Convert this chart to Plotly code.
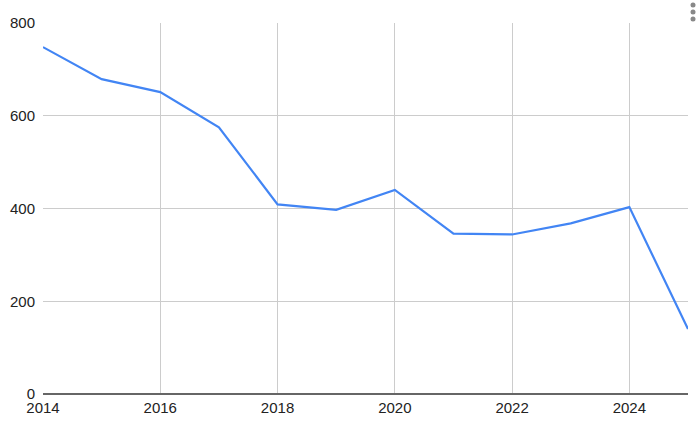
import plotly.graph_objects as go

years = [2014, 2015, 2016, 2017, 2018, 2019, 2020, 2021, 2022, 2023, 2024, 2025]
values = [748, 679, 651, 575, 409, 397, 440, 346, 344, 368, 403, 140]
x_ticks = [2014, 2016, 2018, 2020, 2022, 2024]
y_ticks = [0, 200, 400, 600, 800]

fig = go.Figure()
fig.add_trace(go.Scatter(
    x=years, y=values, mode="lines",
    line=dict(color="#4285F4", width=2.2),
    hoverinfo="x+y",
))

font = dict(family="Liberation Sans, Arial, sans-serif", size=15, color="#222222")

W, H = 700, 430
L, R, T, B = 43, 12, 23, 36
pw, ph = W - L - R, H - T - B

fig.update_layout(
    width=W, height=H,
    margin=dict(l=L, r=R, t=T, b=B, autoexpand=False),
    paper_bgcolor="white", plot_bgcolor="white",
    showlegend=False,
    font=font,
    xaxis=dict(
        range=[2014, 2025], tickvals=x_ticks, ticktext=[str(v) for v in x_ticks],
        showgrid=True, gridcolor="#cccccc", gridwidth=1,
        zeroline=False, showline=False, ticks="", ticklabelstandoff=3,
        fixedrange=True, automargin=False,
    ),
    yaxis=dict(
        range=[0, 800], tickvals=y_ticks, ticktext=[str(v) for v in y_ticks],
        showgrid=True, gridcolor="#cccccc", gridwidth=1,
        zeroline=True, zerolinecolor="#666666", zerolinewidth=2,
        showline=False, ticks="", ticklabelstandoff=7,
        fixedrange=True, automargin=False,
    ),
)

# menu dots (top-right), positions in page pixels
for cy in [5, 12, 19]:
    xp = (693 - L) / pw
    yp = 1 + (T - cy) / ph
    fig.add_shape(type="circle", xref="paper", yref="paper",
                  x0=xp - 2.5 / pw, x1=xp + 2.5 / pw,
                  y0=yp - 2.5 / ph, y1=yp + 2.5 / ph,
                  fillcolor="#888888", line=dict(width=0), layer="above")

fig.write_html(
    "out.html",
    config={"displayModeBar": False},
    post_script="document.body.style.margin='0';document.body.style.overflow='hidden';",
)
